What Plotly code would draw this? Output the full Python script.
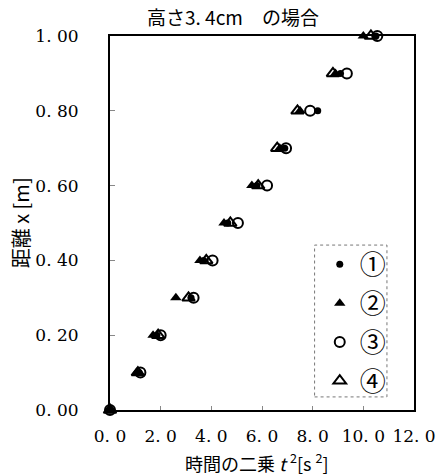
import plotly.graph_objects as go

# distance x [m]
distance = [0.0, 0.1, 0.2, 0.3, 0.4, 0.5, 0.6, 0.7, 0.8, 0.9, 1.0]
# time squared t^2 [s^2] for each trial
t2_1 = [0.0, 1.15, 1.85, 3.2, 3.7, 4.65, 5.8, 6.9, 8.2, 9.1, 10.5]
t2_2 = [0.0, 1.05, 1.7, 2.6, 3.55, 4.5, 5.6, 6.7, 7.5, 8.9, 10.0]
t2_3 = [0.0, 1.2, 2.0, 3.3, 4.05, 5.05, 6.2, 6.95, 7.9, 9.35, 10.55]
t2_4 = [0.0, 1.1, 1.9, 3.1, 3.8, 4.75, 5.85, 6.6, 7.4, 8.8, 10.3]

names = ["①", "②", "③", "④"]
xticks = [0, 2, 4, 6, 8, 10, 12]
xticktext = ["0. 0", "2. 0", "4. 0", "6. 0", "8. 0", "10. 0", "12. 0"]
yticks = [0, 0.2, 0.4, 0.6, 0.8, 1.0]
yticktext = ["0. 00", "0. 20", "0. 40", "0. 60", "0. 80", "1. 00"]

series = [t2_1, t2_2, t2_3, t2_4]
markers = [
    dict(symbol="circle", size=7, color="black"),
    dict(symbol="triangle-up", size=10, color="black"),
    dict(symbol="circle-open", size=10, color="black", line=dict(width=2, color="black")),
    dict(symbol="triangle-up-open", size=11, color="black", line=dict(width=2, color="black")),
]

fig = go.Figure()
for i, (xs, nm, mk) in enumerate(zip(series, names, markers)):
    fig.add_trace(go.Scatter(x=xs, y=distance, mode="markers", name=nm,
                             marker=mk, cliponaxis=False, legendgroup=str(i)))

serif = "DejaVu Serif, Liberation Serif, serif"
cjk = "Noto Sans CJK JP"

fig.update_layout(
    width=448, height=475,
    margin=dict(l=110, r=23, t=36, b=65),
    paper_bgcolor="white", plot_bgcolor="white",
    showlegend=True,
    legend=dict(x=0.69, y=0.452, xanchor="left", yanchor="top",
                bgcolor="rgba(0,0,0,0)", borderwidth=0,
                font=dict(family=cjk, size=26, color="black"),
                traceorder="grouped", tracegroupgap=2),
    xaxis=dict(range=[0, 12], tickvals=xticks, ticktext=xticktext,
               showgrid=False, zeroline=False, showline=True, mirror=True,
               linecolor="black", linewidth=2, ticks="inside", ticklen=4,
               tickcolor="#888", ticklabelstandoff=10,
               tickfont=dict(family=serif, size=17, color="black")),
    yaxis=dict(range=[0, 1], tickvals=yticks, ticktext=yticktext,
               showgrid=False, zeroline=False, showline=True, mirror=True,
               linecolor="black", linewidth=2, ticks="inside", ticklen=5,
               tickcolor="#888", ticklabelstandoff=26,
               tickfont=dict(family=serif, size=17, color="black")),
    shapes=[dict(type="rect", xref="paper", yref="paper",
                 x0=0.673, x1=0.911, y0=0.035, y1=0.441,
                 line=dict(color="#777", width=1, dash="dot"))],
    annotations=[
        dict(text="高さ3. 4cm　の場合", xref="paper", yref="paper",
             x=0.403, y=1.051, showarrow=False, xanchor="center", yanchor="middle",
             font=dict(family=cjk, size=19, color="black")),
        dict(text="時間の二乗 <i>t</i> <sup>2</sup>[s <sup>2</sup>]", xref="paper", yref="paper",
             x=0.483, y=-0.139, showarrow=False, xanchor="center", yanchor="middle",
             font=dict(family=cjk, size=18, color="black")),
        dict(text="距離 x [m]", xref="paper", yref="paper",
             x=-0.295, y=0.5, showarrow=False, xanchor="center", yanchor="middle",
             textangle=-90, font=dict(family=cjk, size=20, color="black")),
    ],
)

fig.write_html("out.html")
